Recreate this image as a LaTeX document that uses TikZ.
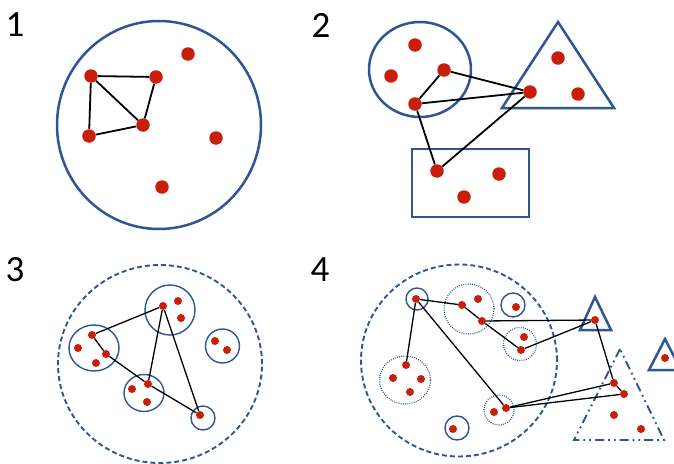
\documentclass[tikz,border=0pt]{standalone}
\usepackage{fontspec}
\setmainfont{Carlito}
\definecolor{cblue}{RGB}{47,85,151}
\definecolor{cred}{RGB}{200,30,10}
\begin{document}
\begin{tikzpicture}[x=1pt,y=-1pt,
  bigdot/.style={circle,fill=cred,inner sep=0pt,minimum size=13.5pt},
  smalldot/.style={circle,fill=cred,inner sep=0pt,minimum size=8pt},
  edgeA/.style={black,line width=1.8pt},
  edgeB/.style={black,line width=1.3pt},
  shapeA/.style={cblue,line width=2.5pt},
  dashbig/.style={cblue,line width=1.9pt,dash pattern=on 5pt off 3pt},
  thinring/.style={cblue,line width=1.4pt},
  dotring/.style={cblue,line width=1.2pt,dash pattern=on 0.9pt off 1.3pt},
  dashdotdot/.style={cblue,line width=1.9pt,dash pattern=on 9pt off 4pt on 1.8pt off 4pt on 1.8pt off 4pt},
  lbl/.style={font=\fontsize{37}{37}\selectfont,inner sep=0pt}]
\useasboundingbox (0,0) rectangle (674,463);
\clip (0,0) rectangle (674,463);
\fill[white] (0,0) rectangle (674,463);

% labels
\node[lbl] (l1) at (15,25) {1};
\node[lbl] (l2) at (321,25) {2};
\node[lbl] (l3) at (15,270) {3};
\node[lbl] (l4) at (320,270) {4};

% ---------- panel 1 ----------
\draw[shapeA] (159,125) ellipse [x radius=102pt, y radius=104pt];
\node[bigdot] (a1) at (91,76) {};
\node[bigdot] (a2) at (156,77) {};
\node[bigdot] (a3) at (143,125) {};
\node[bigdot] (a4) at (89,136) {};
\node[bigdot] (a5) at (188,54) {};
\node[bigdot] (a6) at (216,138) {};
\node[bigdot] (a7) at (162,187) {};
\draw[edgeA] (a1) -- (a2);
\draw[edgeA] (a1) -- (a3);
\draw[edgeA] (a1) -- (a4);
\draw[edgeA] (a2) -- (a3);
\draw[edgeA] (a4) -- (a3);

% ---------- panel 2 ----------
\draw[shapeA] (420,69.5) ellipse [x radius=51pt, y radius=47.5pt];
\draw[shapeA] (558,22) -- (502,108) -- (614,108) -- cycle;
\draw[shapeA] (412,149) rectangle (529,217);
\node[bigdot] (b1) at (415,45) {};
\node[bigdot] (b2) at (391,76) {};
\node[bigdot] (b3) at (444,70) {};
\node[bigdot] (b4) at (415,104) {};
\node[bigdot] (b5) at (558,58) {};
\node[bigdot] (b6) at (530,92) {};
\node[bigdot] (b7) at (578,94) {};
\node[bigdot] (b8) at (437,171) {};
\node[bigdot] (b9) at (499,174) {};
\node[bigdot] (b10) at (464,197) {};
\draw[edgeA] (b3) -- (b4);
\draw[edgeA] (b3) -- (b6);
\draw[edgeA] (b4) -- (b6);
\draw[edgeA] (b4) -- (b8);
\draw[edgeA] (b8) -- (b6);

% ---------- panel 3 ----------
\draw[dashbig] (160,364) ellipse [x radius=102pt, y radius=99pt];
\draw[thinring] (170,310) circle [radius=25pt];
\draw[thinring] (94,348) ellipse [x radius=25pt, y radius=23pt];
\draw[thinring] (222.5,346) circle [radius=17pt];
\draw[thinring] (144,393) ellipse [x radius=20pt, y radius=18.5pt];
\draw[thinring] (203,418) circle [radius=12pt];
\node[smalldot] (c1) at (163,306) {};
\node[smalldot] (c2) at (178,301) {};
\node[smalldot] (c3) at (181,318) {};
\node[smalldot] (c4) at (92,335) {};
\node[smalldot] (c5) at (78,348) {};
\node[smalldot] (c6) at (106,354) {};
\node[smalldot] (c7) at (96,363) {};
\node[smalldot] (c8) at (215,341) {};
\node[smalldot] (c9) at (227,350) {};
\node[smalldot] (c10) at (148,384) {};
\node[smalldot] (c11) at (132,389) {};
\node[smalldot] (c12) at (147,402) {};
\node[smalldot] (c13) at (200,415) {};
\draw[edgeB] (c4) -- (c1);
\draw[edgeB] (c4) -- (c6);
\draw[edgeB] (c6) -- (c10);
\draw[edgeB] (c1) -- (c10);
\draw[edgeB] (c1) -- (c13);
\draw[edgeB] (c10) -- (c13);

% ---------- panel 4 ----------
\draw[dashbig] (459,360.5) ellipse [x radius=98pt, y radius=96pt];
\draw[thinring] (417,299) circle [radius=11pt];
\draw[thinring] (513,305) circle [radius=12pt];
\draw[thinring] (457,428) circle [radius=12pt];
\draw[dotring] (469,309) circle [radius=25pt];
\draw[dotring] (520,344) circle [radius=16.5pt];
\draw[dotring] (405,380) ellipse [x radius=25.5pt, y radius=24pt];
\draw[dotring] (499,410) circle [radius=15pt];
\draw[shapeA] (595,297) -- (580,330) -- (611,330) -- cycle;
\draw[shapeA] (665,339) -- (649,370) -- (681,370) -- cycle;
\draw[dashdotdot] (620,349) -- (574,440) -- (664,440) -- cycle;
\node[smalldot] (d1) at (416,299) {};
\node[smalldot] (d2) at (462,305) {};
\node[smalldot] (d3) at (478,299) {};
\node[smalldot] (d4) at (482,321) {};
\node[smalldot] (d5) at (516,307) {};
\node[smalldot] (d6) at (524,337) {};
\node[smalldot] (d7) at (521,350) {};
\node[smalldot] (d8) at (406,365) {};
\node[smalldot] (d9) at (393,378) {};
\node[smalldot] (d10) at (421,379) {};
\node[smalldot] (d11) at (410,392) {};
\node[smalldot] (d12) at (494,412) {};
\node[smalldot] (d13) at (506,408) {};
\node[smalldot] (d14) at (453,429) {};
\node[smalldot] (d15) at (595,320) {};
\node[smalldot] (d16) at (665,358) {};
\node[smalldot] (d17) at (614,383) {};
\node[smalldot] (d18) at (624,394) {};
\node[smalldot] (d19) at (614,415) {};
\node[smalldot] (d20) at (641,429) {};
\draw[edgeB] (d1) -- (d2);
\draw[edgeB] (d2) -- (d4);
\draw[edgeB] (d4) -- (d15);
\draw[edgeB] (d4) -- (d7);
\draw[edgeB] (d7) -- (d15);
\draw[edgeB] (d1) -- (d8);
\draw[edgeB] (d1) -- (d13);
\draw[edgeB] (d15) -- (d17);
\draw[edgeB] (d17) -- (d18);
\draw[edgeB] (d13) -- (d17);
\draw[edgeB] (d13) -- (d18);
\end{tikzpicture}
\end{document}
